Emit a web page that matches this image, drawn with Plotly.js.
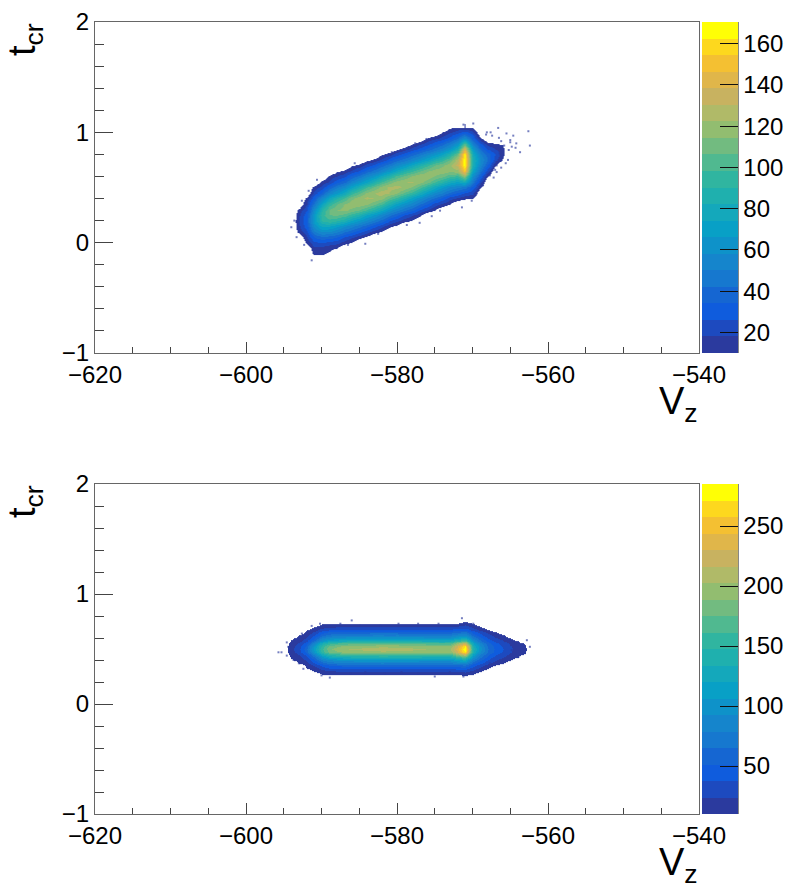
<!DOCTYPE html>
<html><head><meta charset="utf-8">
<script src="https://cdn.plot.ly/plotly-3.0.1.min.js"></script>
<style>html,body{margin:0;padding:0;background:#fff}</style></head>
<body><div id="chart" style="width:788px;height:884px"></div>
<script>
const bandColors = ['#2b3a9e','#1d4abf','#0f5cdd','#1566d2','#1678cf','#1585cc','#0e92c9','#08a0c6','#14a8bb','#1fb0ae','#30b5a0','#50b990','#72bb80','#92bd70','#b0ba68','#c8b260','#e0b64a','#f4c032','#fdd81e','#ffff05'];
const topX = [-594,-593,-592,-591,-590,-589,-588,-587,-586,-585,-584,-583,-582,-581,-580,-579,-578,-577,-576,-575,-574,-573,-572,-571,-570,-569,-568,-567,-566,-565,-564];
const topY = [-0.15,-0.1,-0.05,0,0.05,0.1,0.15,0.2,0.25,0.3,0.35,0.4,0.45,0.5,0.55,0.6,0.65,0.7,0.75,0.8,0.85,0.9,0.95,1,1.05];
const topZ = [
[0,0,0,0,0,0,0,0,0,0,0,0,0,0,0,0,0,0,0,0,0,0,0,0,0],
[0,0,0,0,0,12,16,18,16,12,0,0,0,0,0,0,0,0,0,0,0,0,0,0,0],
[0,0,0,11,17,24,31,34,32,26,18,12,0,0,0,0,0,0,0,0,0,0,0,0,0],
[0,11,16,23,34,47,60,66,65,57,44,31,20,12,0,0,0,0,0,0,0,0,0,0,0],
[0,11,15,25,40,58,76,90,94,88,72,54,36,21,12,0,0,0,0,0,0,0,0,0,0],
[0,8,12,22,38,57,75,95,106,108,94,75,55,36,20,12,0,0,0,0,0,0,0,0,0],
[0,0,10,20,35,51,69,90,107,114,106,88,66,48,32,18,8,0,0,0,0,0,0,0,0],
[0,0,0,13,26,42,60,83,103,117,115,99,78,58,40,24,12,0,0,0,0,0,0,0,0],
[0,0,0,8,20,36,53,72,94,112,120,112,94,72,53,36,20,8,0,0,0,0,0,0,0],
[0,0,0,0,13,28,45,64,85,106,119,119,106,85,64,45,28,13,0,0,0,0,0,0,0],
[0,0,0,0,8,21,38,55,74,97,116,124,116,97,74,55,38,21,8,0,0,0,0,0,0],
[0,0,0,0,0,13,29,46,65,87,108,122,122,108,87,65,46,29,13,0,0,0,0,0,0],
[0,0,0,0,0,8,21,38,55,76,99,118,126,118,99,76,55,38,21,8,0,0,0,0,0],
[0,0,0,0,0,0,12,26,44,62,84,105,122,124,110,88,66,47,31,14,0,0,0,0,0],
[0,0,0,0,0,0,8,19,36,53,72,96,115,125,118,100,77,57,40,22,8,0,0,0,0],
[0,0,0,0,0,0,0,12,26,44,62,84,105,120,122,108,88,65,47,30,14,0,0,0,0],
[0,0,0,0,0,0,0,8,19,36,53,71,94,113,123,116,98,76,56,39,22,8,0,0,0],
[0,0,0,0,0,0,0,0,12,26,43,61,82,103,118,120,106,86,64,46,29,14,0,0,0],
[0,0,0,0,0,0,0,0,0,17,33,50,68,90,110,121,114,96,74,55,37,22,10,0,0],
[0,0,0,0,0,0,0,0,0,10,23,41,58,78,99,114,118,106,85,63,45,29,15,0,0],
[0,0,0,0,0,0,0,0,0,0,16,32,49,67,89,109,120,113,95,73,54,37,21,10,0],
[0,0,0,0,0,0,0,0,0,0,10,22,40,58,79,101,116,120,107,86,64,46,29,16,8],
[0,0,0,0,0,0,0,0,0,0,0,17,33,52,72,97,120,134,128,108,83,60,41,23,9],
[0,0,0,0,0,0,0,0,0,0,0,12,26,48,80,118,152,168,170,164,140,98,58,30,10],
[0,0,0,0,0,0,0,0,0,0,0,11,20,32,46,60,74,83,85,80,68,50,34,20,8],
[0,0,0,0,0,0,0,0,0,0,0,0,0,10,20,32,44,54,58,52,40,26,10,0,0],
[0,0,0,0,0,0,0,0,0,0,0,0,0,0,0,10,22,34,42,38,26,12,0,0,0],
[0,0,0,0,0,0,0,0,0,0,0,0,0,0,0,0,0,10,20,26,18,9,0,0,0],
[0,0,0,0,0,0,0,0,0,0,0,0,0,0,0,0,0,0,9,12,12,9,0,0,0],
[0,0,0,0,0,0,0,0,0,0,0,0,0,0,0,0,0,0,0,0,0,0,0,0,0],
[0,0,0,0,0,0,0,0,0,0,0,0,0,0,0,0,0,0,0,0,0,0,0,0,0]
];
const botX = [-595,-594,-593,-592,-591,-590,-589,-588,-587,-586,-585,-584,-583,-582,-581,-580,-579,-578,-577,-576,-575,-574,-573,-572,-571,-570,-569,-568,-567,-566,-565,-564,-563,-562];
const botY = [0.25,0.275,0.3,0.325,0.35,0.375,0.4,0.425,0.45,0.475,0.5,0.525,0.55,0.575,0.6,0.625,0.65,0.675,0.7,0.725,0.75];
const botZ = [
[0,0,0,0,0,0,0,0,0,0,0,0,0,0,0,0,0,0,0,0,0],
[0,0,0,0,0,0,8,11,15,18,20,18,15,11,8,0,0,0,0,0,0],
[0,0,0,0,0,10,14,19,25,31,34,31,25,19,14,10,0,0,0,0,0],
[0,0,0,9,12,18,24,33,43,54,60,54,43,33,24,18,12,9,0,0,0],
[0,0,11,17,26,36,48,64,84,103,112,104,86,66,49,36,26,17,11,0,0],
[0,11,18,30,44,58,78,100,130,152,160,153,132,102,80,60,45,31,18,11,0],
[0,12,22,38,52,68,90,122,152,176,185,177,153,124,92,70,53,38,22,12,0],
[0,12,24,40,56,74,96,128,160,186,196,187,161,130,98,75,55,40,24,12,0],
[0,12,25,41,57,76,98,132,164,190,200,191,165,133,100,77,57,41,25,12,0],
[0,12,25,42,58,77,100,134,166,194,204,195,167,135,101,78,58,42,25,13,0],
[0,13,26,42,58,78,101,135,167,195,205,196,168,135,102,78,58,42,26,12,0],
[0,12,25,42,58,78,102,136,168,196,207,197,169,136,102,78,58,42,25,13,0],
[0,13,26,43,58,78,102,136,169,198,208,198,169,136,103,79,59,43,26,12,0],
[0,12,26,42,59,79,103,137,170,199,210,200,170,137,103,79,58,42,25,13,0],
[0,13,25,42,58,78,102,136,170,199,209,199,170,136,102,78,59,43,26,12,0],
[0,12,26,43,59,78,102,136,169,198,208,199,169,136,103,79,58,42,25,13,0],
[0,13,25,42,58,78,102,135,168,197,207,197,168,135,102,78,58,42,26,12,0],
[0,12,26,42,58,77,101,135,168,196,206,196,168,135,101,78,58,43,25,13,0],
[0,12,25,42,57,77,100,134,167,195,204,195,167,134,101,77,58,42,26,12,0],
[0,13,25,41,58,76,100,133,165,193,202,194,165,133,100,76,57,42,25,12,0],
[0,12,25,42,57,76,99,132,164,192,200,192,164,132,99,76,57,41,25,13,0],
[0,12,24,41,57,75,98,132,163,190,199,191,163,131,99,75,57,42,25,12,0],
[0,13,25,41,57,76,99,132,164,192,202,193,165,133,100,76,58,42,26,13,0],
[0,13,26,44,62,84,112,152,195,225,235,226,196,154,114,86,63,45,28,13,0],
[9,16,28,46,66,90,124,170,225,270,285,272,228,172,126,92,68,48,32,20,9],
[0,11,20,32,44,58,76,98,118,134,142,135,120,100,78,60,46,33,21,12,0],
[0,0,12,21,31,42,54,68,82,94,100,95,84,70,56,43,32,22,13,0,0],
[0,0,0,11,19,27,36,46,55,62,66,62,56,47,37,28,20,12,0,0,0],
[0,0,0,0,11,18,25,33,41,47,50,47,42,34,26,19,12,0,0,0,0],
[0,0,0,0,0,11,17,24,31,36,38,36,31,25,18,12,0,0,0,0,0],
[0,0,0,0,0,0,11,16,21,25,27,25,21,16,11,0,0,0,0,0,0],
[0,0,0,0,0,0,0,10,13,16,18,16,13,10,0,0,0,0,0,0,0],
[0,0,0,0,0,0,0,0,9,11,12,11,9,0,0,0,0,0,0,0,0],
[0,0,0,0,0,0,0,0,0,0,0,0,0,0,0,0,0,0,0,0,0]
];
const topSpeckX = [-566.6,-565.5,-564.6,-562.6,-562.4,-563.7,-564.2,-565.0,-566.1,-566.4,-565.3,-566.8,-566.8,-567.2,-567.7,-568.6,-569.5,-570.1,-571.4,-574.3,-575.4,-577.0,-578.7,-580.5,-582.5,-584.2,-586.5,-588.4,-590.4,-591.3,-592.3,-593.3,-594.0,-593.6,-592.6,-591.7,-590.6,-588.4,-585.6,-582.2,-580.7,-577.6,-576.1,-573.9,-571.2,-569.9,-568.1,-566.2,-565.8,-565.2,-564.8,-564.3,-566.5,-565.0,-566.0,-565.6,-566.2,-567.0,-567.4,-568.2,-567.6];
const topSpeckY = [1.04,0.99,0.97,1.01,0.88,0.82,0.90,0.91,0.85,0.81,0.75,0.70,0.64,0.59,0.61,0.52,0.44,0.38,0.32,0.29,0.24,0.18,0.16,0.16,0.08,-0.01,-0.02,-0.05,-0.10,-0.16,-0.02,0.05,0.14,0.20,0.38,0.47,0.57,0.61,0.72,0.76,0.82,0.90,0.94,0.98,1.07,1.08,1.00,0.92,0.88,0.84,0.87,0.86,0.95,0.93,0.78,0.72,0.68,0.66,0.97,0.98,1.00];
const botSpeckX = [-595.7,-595.3,-594.6,-594.6,-594.4,-593.7,-593.0,-592.6,-591.3,-590.2,-587.5,-586.0,-584.9,-582.2,-579.8,-577.2,-574.5,-571.4,-569.9,-567.2,-565.7,-564.3,-562.8,-562.4,-563.2,-564.8,-563.9,-565.9,-567.7,-569.4,-571.2,-573.0,-575.0,-577.2,-579.4,-581.6,-584.2,-586.2,-588.9,-590.0,-591.1,-592.4];
const botSpeckY = [0.47,0.47,0.56,0.44,0.52,0.40,0.37,0.64,0.71,0.73,0.73,0.76,0.71,0.71,0.73,0.73,0.73,0.78,0.73,0.64,0.61,0.56,0.58,0.52,0.47,0.49,0.43,0.40,0.37,0.29,0.25,0.29,0.25,0.28,0.29,0.28,0.29,0.28,0.24,0.26,0.31,0.32];
const xRange = [-620,-540], yRange = [-1,2];
const W = 788, H = 884;
const FONT = 'Liberation Sans';
const steps = bandColors.flatMap((c,i) => [[i/20,c],[(i+1)/20,c]]);
// same bands, but anything below the lowest level stays empty (smooth outer contour)
function stepsFrom0(zmax){
  const f = 10/zmax, out = [[0,'rgba(255,255,255,0)'],[f,'rgba(255,255,255,0)']];
  bandColors.forEach((c,i) => { out.push([f+(1-f)*i/20,c]); out.push([f+(1-f)*(i+1)/20,c]); });
  return out;
}
function heat(x,y,z,zmax,xa,ya){
  return {type:'heatmap',x,y,z,transpose:true,xaxis:xa,yaxis:ya,zsmooth:'best',zmin:0,zmax,showscale:false,colorscale:stepsFrom0(zmax)};
}
// colour-bar carrier: its two cells lie outside the axis range, so only the bar shows
function bar(zmax,dt,top,xa,ya){
  return {type:'heatmap',x:[-700,-699],y:[-5,-4],z:[[10,zmax],[zmax,10]],xaxis:xa,yaxis:ya,zmin:10,zmax,colorscale:steps,
    colorbar:{x:702/W,xanchor:'left',y:1-top/H,yanchor:'top',lenmode:'pixels',len:top===22?331:330,thicknessmode:'pixels',thickness:36,
      xpad:0,ypad:0,outlinewidth:0,borderwidth:0,tick0:0,dtick:dt,ticks:'inside',ticklen:18,tickwidth:1,tickcolor:'#111',
      tickfont:{family:FONT,size:24,color:'#000'}}};
}
const speck = (x,y,xa,ya) => ({type:'scatter',mode:'markers',x,y,xaxis:xa,yaxis:ya,marker:{symbol:'square',size:2,color:'#2b3a9e',opacity:0.65,line:{width:0}}});
const xAxis = (anchor) => ({domain:[95/W,699/W],range:xRange,anchor,tick0:-620,dtick:20,ticks:'inside',ticklen:11,tickwidth:1,tickcolor:'#444',
  minor:{dtick:5,ticks:'inside',ticklen:6,tickwidth:1,tickcolor:'#444'},showline:true,linecolor:'#666',linewidth:1,mirror:true,showgrid:false,zeroline:false,
  tickfont:{family:FONT,size:24,color:'#000'}});
const yAxis = (anchor,top,bot) => ({domain:[1-bot/H,1-top/H],range:yRange,anchor,tick0:-1,dtick:1,ticks:'inside',ticklen:18,tickwidth:1,tickcolor:'#444',
  minor:{dtick:0.2,ticks:'inside',ticklen:9,tickwidth:1,tickcolor:'#444'},showline:true,linecolor:'#666',linewidth:1,mirror:true,showgrid:false,zeroline:false,
  tickfont:{family:FONT,size:24,color:'#000'}});
const anno = (text,x,y,extra) => Object.assign({text,xref:'paper',yref:'paper',x:x/W,y:1-y/H,showarrow:false,font:{family:FONT,size:38,color:'#000'}},extra);
const layout = {width:W,height:H,margin:{l:0,r:0,t:0,b:0,autoexpand:false},paper_bgcolor:'#fff',plot_bgcolor:'#fff',showlegend:false,
  xaxis:xAxis('y'),yaxis:yAxis('x',22,353),xaxis2:xAxis('y2'),yaxis2:yAxis('x2',484,814),
  shapes:[[22,353],[484,814]].map(([a,b]) => ({type:'line',xref:'paper',yref:'paper',x0:738/W,x1:738/W,y0:1-a/H,y1:1-b/H,line:{color:'#111',width:1}})),
  annotations:[
    anno('V<sub>z</sub>',700,404,{xanchor:'right',yanchor:'middle'}),
    anno('V<sub>z</sub>',700,865,{xanchor:'right',yanchor:'middle'}),
    anno('t<sub>cr</sub>',25,40,{textangle:-90,xanchor:'center',yanchor:'middle'}),
    anno('t<sub>cr</sub>',25,502,{textangle:-90,xanchor:'center',yanchor:'middle'})
  ]};
Plotly.newPlot('chart',[
  heat(topX,topY,topZ,170.5,'x','y'),bar(170.5,20,22,'x','y'),speck(topSpeckX,topSpeckY,'x','y'),
  heat(botX,botY,botZ,285,'x2','y2'),bar(285,50,484,'x2','y2'),speck(botSpeckX,botSpeckY,'x2','y2')
],layout,{displayModeBar:false,staticPlot:true});
</script></body></html>
